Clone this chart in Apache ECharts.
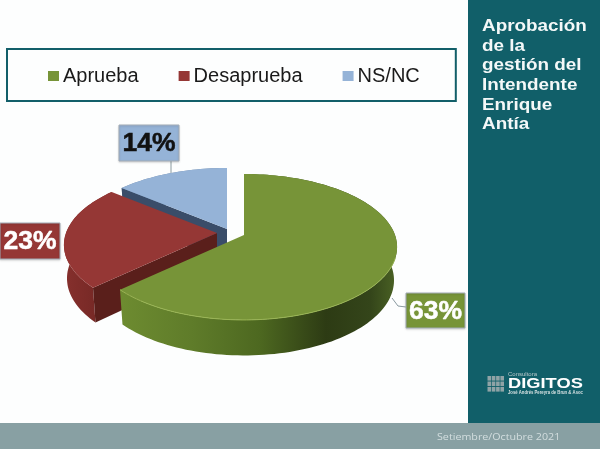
<!DOCTYPE html>
<html><head><meta charset="utf-8">
<style>html,body{margin:0;padding:0;background:#fdfefe}#c{width:600px;height:449px}</style>
<script src="https://cdn.jsdelivr.net/npm/echarts@6/dist/echarts.min.js"></script>
</head><body><div id="c"></div>
<script>
const categories = ['Aprueba', 'Desaprueba', 'NS/NC'];
const values = [63, 23, 14];
const faceColors = ['#779438', '#953735', '#95b3d7'];
const labelColors = ['#ffffff', '#ffffff', '#111111'];
const titleLines = ['Aprobación', 'de la', 'gestión del', 'Intendente', 'Enrique', 'Antía'];
const footerText = 'Setiembre/Octubre 2021';

// drawing layout of each exploded slice
const apex = [[244, 235], [217, 233], [227, 229]];
const boxes = [[406, 293, 59, 35], [0, 223, 60, 36], [119, 125, 60, 36]];
const leaders = [[[392, 298], [398, 306], [406, 307]], null, [[171, 161], [171, 173]]];
const showsStartCut = [false, true, true];
const G = echarts.graphic;
const sideFills = [
  new G.LinearGradient(122, 0, 398, 0, [
    {offset: 0, color: '#6d8b30'}, {offset: .25, color: '#5f7c2a'}, {offset: .5, color: '#4d6820'},
    {offset: .74, color: '#2d3b14'}, {offset: .9, color: '#34451a'}, {offset: 1, color: '#4c6425'}], true),
  new G.LinearGradient(64, 0, 100, 0, [
    {offset: 0, color: '#86302d'}, {offset: 1, color: '#752825'}], true),
  '#6f88a8'
];
const cutFills = ['#4c6425', '#5a1f1b', '#3a4d69'];
const rimHighlight = ['#9ab555', null, null];

const R = 151, RY = 71, K = 0.164, DEPTH = 33, DEPTH_NEAR = 2.5, BOTTOM_SCALE = 0.98;
function project(c, a, bottom) {
  const u = Math.sin(a), v = -Math.cos(a), w = 1 - K * v;
  const s = bottom ? BOTTOM_SCALE : 1;
  return [c[0] + R * s * u / w, c[1] + RY * v / w + (bottom ? DEPTH + DEPTH_NEAR * v : 0)];
}
function arc(c, a0, a1, bottom) {
  const n = Math.max(8, Math.ceil(Math.abs(a1 - a0) / 0.03)), pts = [];
  for (let i = 0; i <= n; i++) pts.push(project(c, a0 + (a1 - a0) * i / n, bottom));
  return pts;
}
const total = values.reduce((a, b) => a + b, 0);

function makeRender(idx) {
  return function (params, api) {
    const val = api.value(0);
    let before = 0;
    for (let i = 0; i < idx; i++) before += values[i];
    const a0 = before / total * Math.PI * 2;
    const a1 = a0 + val / total * Math.PI * 2;
    const c = apex[idx], children = [];
    const poly = (points, fill) => ({type: 'polygon', shape: {points}, style: {fill}});
    children.push(poly(arc(c, a0, a1, false).concat(arc(c, a1, a0, true)), sideFills[idx]));
    if (showsStartCut[idx]) {
      const rim = project(c, a0, false), rimB = project(c, a0, true);
      children.push(poly([rim, c, [c[0], c[1] + DEPTH], rimB], cutFills[idx]));
    }
    children.push(poly([c].concat(arc(c, a0, a1, false)), faceColors[idx]));
    if (rimHighlight[idx]) {
      children.push({type: 'polyline', shape: {points: arc(c, Math.PI * 0.6, a1, false)},
        style: {fill: null, stroke: rimHighlight[idx], lineWidth: 1}});
    }
    if (leaders[idx]) {
      children.push({type: 'polyline', shape: {points: leaders[idx]},
        style: {fill: null, stroke: '#8a9aa0', lineWidth: 1}});
    }
    const b = boxes[idx];
    children.push({type: 'rect', shape: {x: b[0], y: b[1], width: b[2], height: b[3]},
      style: {fill: faceColors[idx], stroke: '#a3acb6', lineWidth: 1,
        shadowBlur: 2, shadowColor: 'rgba(0,0,0,.15)', shadowOffsetY: 1}});
    children.push({type: 'text', x: b[0] + b[2] / 2, y: b[1] + b[3] / 2 + 1,
      style: {text: val + '%', font: 'bold 26.5px "Liberation Sans"', fill: labelColors[idx],
        stroke: labelColors[idx], lineWidth: 0.5, align: 'center', verticalAlign: 'middle'}});
    return {type: 'group', children};
  };
}

const series = categories.map((name, i) => ({
  type: 'custom', name, coordinateSystem: 'none', silent: true, animation: false,
  z: 3 + (2 - i),
  itemStyle: {color: faceColors[i]},
  data: [[values[i]]],
  renderItem: makeRender(i)
}));

const panel = [
  {type: 'rect', shape: {x: 468, y: 0, width: 132, height: 423}, style: {fill: '#115f69'}},
  {type: 'rect', shape: {x: 0, y: 423, width: 600, height: 26}, style: {fill: '#88a0a3'}}
];
titleLines.forEach((t, i) => panel.push({type: 'text', x: 482, y: 26.5 + i * 19.6, scaleX: 1.11,
  style: {text: t, font: 'bold 17px "Liberation Sans"', fill: '#f4f8f8', align: 'left', verticalAlign: 'middle'}}));
panel.push({type: 'text', x: 437, y: 437, scaleX: 1.19,
  style: {text: footerText, font: '9px "Open Sans"', fill: '#d3dedf', align: 'left', verticalAlign: 'middle'}});
for (let r = 0; r < 3; r++) for (let q = 0; q < 4; q++) {
  panel.push({type: 'rect', shape: {x: 487.5 + q * 4.3, y: 376 + r * 5.5, width: 3.6, height: 4.6}, style: {fill: '#8fa3a6'}});
}
panel.push({type: 'text', x: 508, y: 374.5, style: {text: 'Consultora', font: '6px "Liberation Sans"', fill: '#b9c9cb', align: 'left', verticalAlign: 'middle'}});
panel.push({type: 'text', x: 508, y: 384, scaleX: 1.18, style: {text: 'DIGITOS', font: 'bold 15.5px "Liberation Sans"', fill: '#ffffff', align: 'left', verticalAlign: 'middle'}});
panel.push({type: 'text', x: 508, y: 393, scaleX: 0.92, style: {text: 'José Andrés Pereyra de Brun & Asoc', font: 'bold 4.6px "Liberation Sans"', fill: '#d5e0e1', align: 'left', verticalAlign: 'middle'}});

const chart = echarts.init(document.getElementById('c'), null, {renderer: 'canvas'});
chart.setOption({
  animation: false,
  backgroundColor: '#fdfefe',
  legend: {
    data: categories, left: 7, top: 49, orient: 'horizontal',
    padding: [17, 36, 15, 41], borderColor: '#125f69', borderWidth: 2,
    icon: 'rect', itemWidth: 11, itemHeight: 10, itemGap: 40, selectedMode: false,
    textStyle: {fontFamily: '"Liberation Sans"', fontSize: 20, color: '#1a1a1a', padding: [0, 0, 0, -1]}
  },
  graphic: {elements: panel},
  series
});
</script></body></html>
